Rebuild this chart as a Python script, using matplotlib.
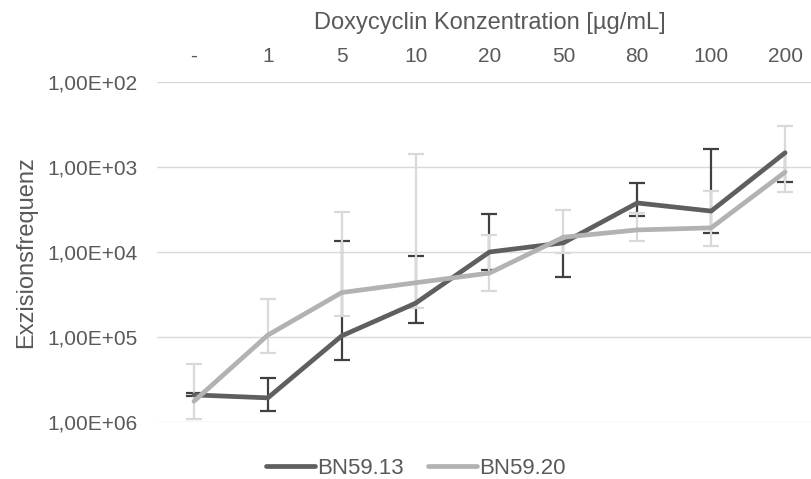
import numpy as np
import matplotlib
matplotlib.use('Agg')
import matplotlib.pyplot as plt
from matplotlib.ticker import FuncFormatter, FixedLocator

plt.rcParams['font.family'] = ['Liberation Sans', 'DejaVu Sans']

# Doxycyclin concentrations (category labels on top axis)
concentrations = ['-', '1', '5', '10', '20', '50', '80', '100', '200']

# mean excision frequency (1 in N) and standard deviation
bn5913_mean = [4.8e5, 5.2e5, 9.7e4, 4.0e4, 1.0e4, 7.8e3, 2.65e3, 3.3e3, 6.8e2]
bn5913_sd = [2.0e4, 2.2e5, 8.95e4, 2.9e4, 6.4e3, 1.19e4, 1.1e3, 2.68e3, 8.2e2]
bn5920_mean = [5.7e5, 9.5e4, 3.0e4, 2.3e4, 1.77e4, 6.7e3, 5.5e3, 5.2e3, 1.15e3]
bn5920_sd = [3.6e5, 5.9e4, 2.66e4, 2.23e4, 1.14e4, 3.5e3, 2.0e3, 3.3e3, 8.2e2]

text_col = '#595959'
dark_line, dark_err = '#5f5f5f', '#404040'
light_line, light_err = '#b2b2b2', '#d9d9d9'

fig = plt.figure(figsize=(8.12, 4.79), dpi=100)
ax = fig.add_axes([157 / 812, 57 / 479, 665 / 812, 340 / 479])
x = np.arange(len(concentrations))


def draw_errors(mean, sd, color, z):
    mean = np.asarray(mean)
    sd = np.asarray(sd)
    lo = mean - sd
    hi = mean + sd
    lo_ok = lo > 0
    # Excel leaves out the side that would go below zero on a log axis
    ax.vlines(x, np.where(lo_ok, lo, mean), hi, color=color, lw=1.6, zorder=z)
    ax.plot(x[lo_ok], lo[lo_ok], '_', color=color, ms=12, mew=1.6, zorder=z)
    ax.plot(x, hi, '_', color=color, ms=12, mew=1.6, zorder=z)


draw_errors(bn5913_mean, bn5913_sd, dark_err, 2)
draw_errors(bn5920_mean, bn5920_sd, light_err, 3)
ax.plot(x, bn5913_mean, color=dark_line, lw=3.4, label='BN59.13', zorder=4,
        solid_capstyle='round')
ax.plot(x, bn5920_mean, color=light_line, lw=3.4, label='BN59.20', zorder=5,
        solid_capstyle='round')

ax.set_yscale('log')
ax.set_ylim(1e6, 1e2)
ax.yaxis.set_major_locator(FixedLocator([1e2, 1e3, 1e4, 1e5, 1e6]))
ax.yaxis.set_minor_locator(FixedLocator([]))
ax.yaxis.set_major_formatter(FuncFormatter(lambda v, p: f'{v:.2E}'.replace('.', ',')))
ax.set_xlim(-0.5, 8.5)
ax.set_xticks(x)
ax.set_xticklabels(concentrations)
ax.xaxis.tick_top()
ax.xaxis.set_label_position('top')

ax.grid(axis='y', color='#d9d9d9', lw=1)
ax.set_axisbelow(True)
for s in ax.spines.values():
    s.set_visible(False)
ax.tick_params(axis='both', length=0, colors=text_col, labelsize=15)
ax.tick_params(axis='x', pad=11.5)
ax.tick_params(axis='y', pad=14)

ax.set_xlabel('Doxycyclin Konzentration [µg/mL]', color=text_col, fontsize=17, labelpad=13)
ax.set_ylabel('Exzisionsfrequenz', color=text_col, fontsize=17, labelpad=7)

fig.legend(loc='center', bbox_to_anchor=(416 / 812, 11 / 479), ncol=2, frameon=False,
           fontsize=16, handlelength=2.2, handletextpad=0.1, columnspacing=1.1,
           labelcolor=text_col)

fig.savefig('out.png', dpi=100)
